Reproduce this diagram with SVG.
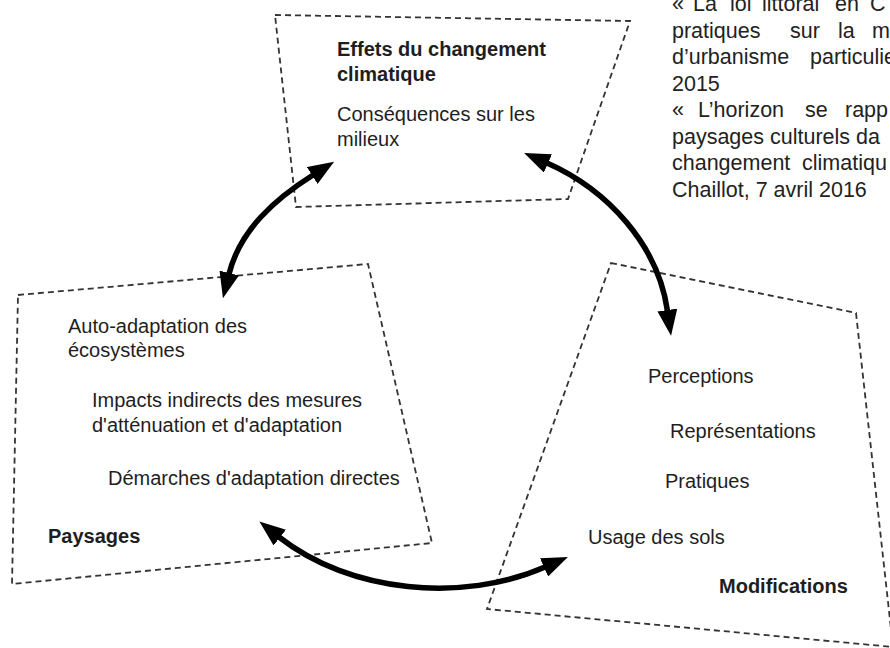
<svg xmlns="http://www.w3.org/2000/svg" width="890" height="648" viewBox="0 0 890 648">
<style>
.box{fill:none;stroke:#333;stroke-width:1.8;stroke-dasharray:6 4}
.t{font-family:"Liberation Sans",Arial,sans-serif;font-size:20px;fill:#1e1e1e}
.b{font-weight:700}
.ref{font-family:"Liberation Sans",Arial,sans-serif;font-size:21.5px;fill:#222}
.arc{fill:none;stroke:#000;stroke-width:5.5;marker-start:url(#ah);marker-end:url(#ah)}
</style>
<defs>
<marker id="ah" markerUnits="userSpaceOnUse" markerWidth="26" markerHeight="20" viewBox="0 0 26 20" refX="1" refY="10" orient="auto-start-reverse">
<path d="M0,0 L26,10 L0,20 z" fill="#000"/>
</marker>
</defs>
<rect width="890" height="648" fill="#fff"/>

<g id="references">
<text class="ref" y="11"><tspan x="672">«</tspan><tspan x="693">La</tspan><tspan x="730">loi</tspan><tspan x="762">littoral</tspan><tspan x="835">en</tspan><tspan x="870">C</tspan></text>
<text class="ref" y="37.5"><tspan x="672">pratiques</tspan><tspan x="790">sur</tspan><tspan x="838">la</tspan><tspan x="872">m</tspan></text>
<text class="ref" y="64"><tspan x="672">d’urbanisme</tspan><tspan x="810">particulie</tspan></text>
<text class="ref" x="672" y="90.5">2015</text>
<text class="ref" y="117"><tspan x="672">«</tspan><tspan x="698">L’horizon</tspan><tspan x="805">se</tspan><tspan x="845">rapp</tspan></text>
<text class="ref" x="672" y="143.5">paysages culturels da</text>
<text class="ref" y="170"><tspan x="672">changement</tspan><tspan x="802">climatiqu</tspan></text>
<text class="ref" x="672" y="196.5">Chaillot, 7 avril 2016</text>
</g>

<g id="node-effets">
<polygon class="box" points="275,15 630,21 568,199 296,207"/>
<text class="t b" x="337" y="56">Effets du changement</text>
<text class="t b" x="337" y="81">climatique</text>
<text class="t" x="337" y="121">Conséquences sur les</text>
<text class="t" x="337" y="146">milieux</text>
</g>

<g id="node-paysages">
<polygon class="box" points="18,295 368,264 432,543 12,584"/>
<text class="t" x="68" y="333">Auto-adaptation des</text>
<text class="t" x="68" y="357">écosystèmes</text>
<text class="t" x="92" y="407">Impacts indirects des mesures</text>
<text class="t" x="92" y="432">d'atténuation et d'adaptation</text>
<text class="t" x="108" y="485">Démarches d'adaptation directes</text>
<text class="t b" x="48" y="543">Paysages</text>
</g>

<g id="node-modifications">
<polygon class="box" points="611,263 856,313 893,647 487,609"/>
<text class="t" x="648" y="383">Perceptions</text>
<text class="t" x="670" y="438">Représentations</text>
<text class="t" x="665" y="488">Pratiques</text>
<text class="t" x="588" y="544">Usage des sols</text>
<text class="t b" x="719" y="593">Modifications</text>
</g>

<g id="connectors">
<path class="arc" d="M229,274 C240,230 275,199 313,175"/>
<path class="arc" d="M547,163 C608,190 658,245 667.5,311"/>
<path class="arc" d="M279,537 C350,593 463,603 545,567"/>
</g>
</svg>
